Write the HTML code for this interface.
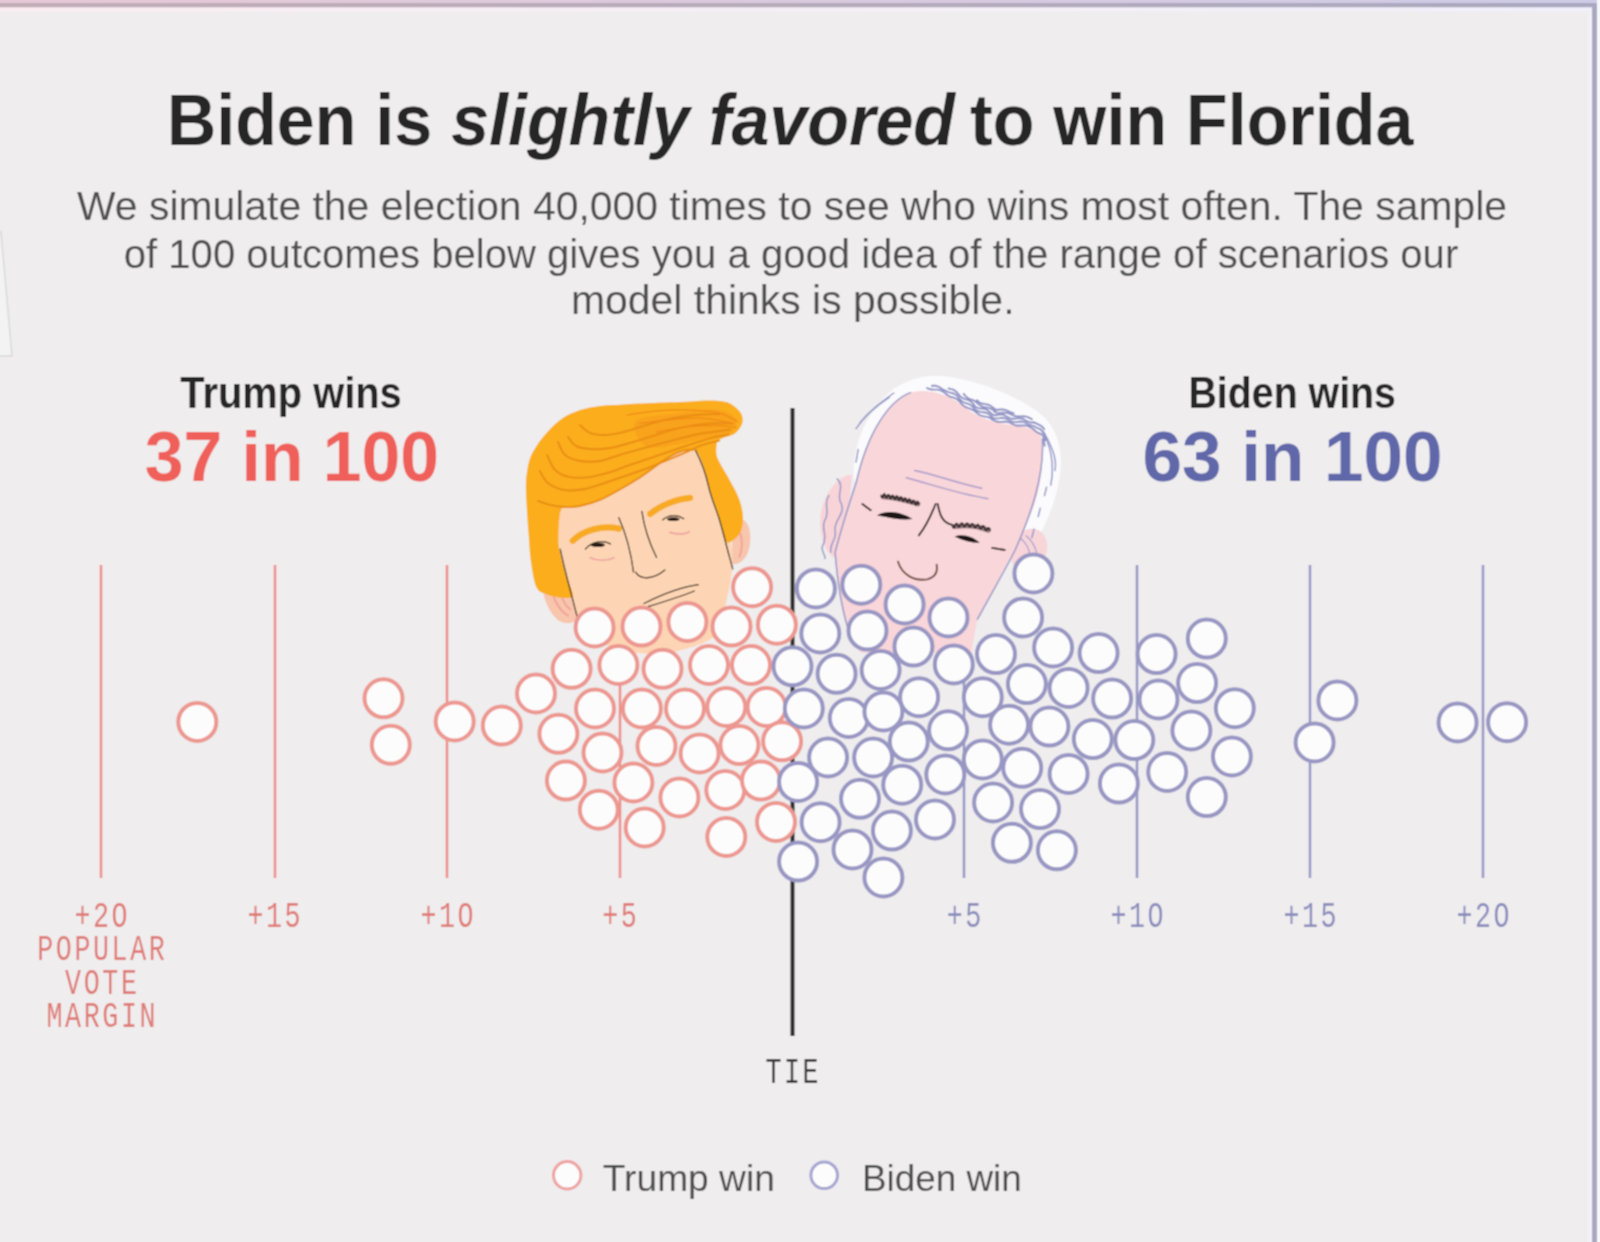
<!DOCTYPE html>
<html><head><meta charset="utf-8"><style>
html,body{margin:0;padding:0;background:#efedee;}
body{width:1600px;height:1242px;overflow:hidden;position:relative;}
svg{position:absolute;left:0;top:0;}
#wrap{position:absolute;left:0;top:0;width:1600px;height:1242px;}
text{font-family:"Liberation Sans",sans-serif;}
.mono text{font-family:"Liberation Mono",monospace;}
</style></head><body>
<div id="wrap">
<svg width="1600" height="1242" viewBox="0 0 1600 1242">
<defs>
<linearGradient id="topg" x1="0" x2="1" y1="0" y2="0"><stop offset="0" stop-color="#e6c9d6"/><stop offset="1" stop-color="#cdcbe6"/></linearGradient>
<linearGradient id="topd" x1="0" x2="1" y1="0" y2="0"><stop offset="0" stop-color="#c2acb6"/><stop offset="1" stop-color="#a9a8bf"/></linearGradient>
<linearGradient id="topl" x1="0" x2="1" y1="0" y2="0"><stop offset="0" stop-color="#fbedf2"/><stop offset="1" stop-color="#f1f0fb"/></linearGradient>
<filter id="soft" x="0" y="0" width="1600" height="1242" filterUnits="userSpaceOnUse"><feConvolveMatrix order="3" kernelMatrix="1 2 1 2 4 2 1 2 1" divisor="16" edgeMode="duplicate"/></filter>
</defs>
<g filter="url(#soft)">
<rect x="0" y="0" width="1600" height="1242" fill="#efedee"/>
<rect x="0" y="0" width="1600" height="3" fill="url(#topg)"/>
<rect x="0" y="3" width="1596" height="4.5" fill="url(#topd)"/>
<rect x="0" y="7.5" width="1592" height="4" fill="url(#topl)"/>
<rect x="1588" y="12" width="4" height="1230" fill="#f2f1f8"/>
<rect x="1592" y="3" width="5" height="1239" fill="#aaa8c1"/>
<rect x="1597" y="0" width="3" height="1242" fill="#f6f7fb"/>
<path d="M0 232 L1 232 L12 356 L0 356" fill="#f3f3f3" stroke="#d9d9d9" stroke-width="1.5"/>

<text x="167" y="145" font-size="72" font-weight="bold" fill="#272727" textLength="788" lengthAdjust="spacingAndGlyphs">Biden is <tspan font-style="italic">slightly favored</tspan></text>
<text x="970" y="145" font-size="72" font-weight="bold" fill="#272727" textLength="443.5" lengthAdjust="spacingAndGlyphs">to win Florida</text>

<g font-size="41" fill="#505050" text-anchor="middle">
<text x="792" y="219.5" textLength="1430" lengthAdjust="spacingAndGlyphs">We simulate the election 40,000 times to see who wins most often. The sample</text>
<text x="791" y="267.5" textLength="1334.5" lengthAdjust="spacingAndGlyphs">of 100 outcomes below gives you a good idea of the range of scenarios our</text>
<text x="792.75" y="314" textLength="443.5" lengthAdjust="spacingAndGlyphs">model thinks is possible.</text>
</g>

<text x="291" y="408" text-anchor="middle" font-size="44" font-weight="bold" fill="#272727" textLength="221.5" lengthAdjust="spacingAndGlyphs">Trump wins</text>
<text x="291.9" y="480.5" text-anchor="middle" font-size="70" font-weight="bold" fill="#f0605a" textLength="294.4" lengthAdjust="spacingAndGlyphs">37 in 100</text>
<text x="1292.2" y="408" text-anchor="middle" font-size="44" font-weight="bold" fill="#272727" textLength="207.5" lengthAdjust="spacingAndGlyphs">Biden wins</text>
<text x="1292.5" y="480.5" text-anchor="middle" font-size="70" font-weight="bold" fill="#6068aa" textLength="300" lengthAdjust="spacingAndGlyphs">63 in 100</text>

<line x1="101" y1="565" x2="101" y2="878" stroke="#ec8d87" stroke-width="2.5"/><line x1="275" y1="565" x2="275" y2="878" stroke="#ec8d87" stroke-width="2.5"/><line x1="447" y1="565" x2="447" y2="878" stroke="#ec8d87" stroke-width="2.5"/><line x1="620" y1="565" x2="620" y2="878" stroke="#ec8d87" stroke-width="2.5"/><line x1="964" y1="565" x2="964" y2="878" stroke="#9496c6" stroke-width="2.5"/><line x1="1137" y1="565" x2="1137" y2="878" stroke="#9496c6" stroke-width="2.5"/><line x1="1310" y1="565" x2="1310" y2="878" stroke="#9496c6" stroke-width="2.5"/><line x1="1483" y1="565" x2="1483" y2="878" stroke="#9496c6" stroke-width="2.5"/>
<line x1="792.5" y1="408" x2="792.5" y2="1036" stroke="#2a2a2a" stroke-width="4"/>

<g id="trump" transform="translate(510 390) scale(0.20934)">
<path d="M228 560 C225 700 250 900 310 1090 C380 1200 500 1260 700 1260 C850 1250 950 1200 990 1170 C1030 1050 1060 900 1065 820 C1060 700 1010 520 960 300 L880 250 L500 420 Z" fill="#fdd5b4"/>
<path d="M165 890 C140 940 170 1050 230 1100 C270 1125 320 1115 318 1080 L290 980 C250 900 190 870 165 890 Z" fill="#f8c5ad"/>
<path d="M200 930 C200 990 230 1050 280 1080 M230 920 C240 980 260 1030 290 1050" fill="none" stroke="#f0a095" stroke-width="8"/>
<path d="M1060 640 C1100 595 1145 620 1148 700 C1150 780 1115 835 1062 832 Z" fill="#f8c5ad"/>
<path d="M1085 660 C1110 690 1115 750 1095 800" fill="none" stroke="#f0a095" stroke-width="8"/>
<path d="M127.0 944.0 C113.7 917.7 106.2 860.3 100.0 820.0 C93.8 779.7 93.3 745.3 90.0 702.0 C86.7 658.7 82.3 598.7 80.0 560.0 C77.7 521.3 76.0 496.7 76.0 470.0 C76.0 443.3 76.0 425.8 80.0 400.0 C84.0 374.2 87.0 344.2 100.0 315.0 C113.0 285.8 134.8 253.7 158.0 225.0 C181.2 196.3 209.7 164.5 239.0 143.0 C268.3 121.5 302.2 107.2 334.0 96.0 C365.8 84.8 398.2 80.3 430.0 76.0 C461.8 71.7 485.2 72.3 525.0 70.0 C564.8 67.7 621.2 64.2 669.0 62.0 C716.8 59.8 773.5 58.7 812.0 57.0 C850.5 55.3 878.2 53.2 900.0 52.0 C921.8 50.8 926.3 50.0 943.0 50.0 C959.7 50.0 982.0 49.7 1000.0 52.0 C1018.0 54.3 1034.2 54.8 1051.0 64.0 C1067.8 73.2 1091.2 91.5 1101.0 107.0 C1110.8 122.5 1114.3 140.2 1110.0 157.0 C1105.7 173.8 1093.3 194.5 1075.0 208.0 C1056.7 221.5 1014.8 226.8 1000.0 238.0 C985.2 249.2 987.2 259.7 986.0 275.0 C984.8 290.3 983.0 305.2 993.0 330.0 C1003.0 354.8 1029.0 392.0 1046.0 424.0 C1063.0 456.0 1083.8 491.3 1095.0 522.0 C1106.2 552.7 1112.2 581.7 1113.0 608.0 C1113.8 634.3 1108.5 661.3 1100.0 680.0 C1091.5 698.7 1074.0 713.5 1062.0 720.0 C1050.0 726.5 1038.8 737.7 1028.0 719.0 C1017.2 700.3 1010.5 652.2 997.0 608.0 C983.5 563.8 959.3 495.0 947.0 454.0 C934.7 413.0 933.2 389.7 923.0 362.0 C912.8 334.3 902.5 299.8 886.0 288.0 C869.5 276.2 846.3 284.8 824.0 291.0 C801.7 297.2 775.8 311.0 752.0 325.0 C728.2 339.0 704.8 358.3 681.0 375.0 C657.2 391.7 633.0 409.5 609.0 425.0 C585.0 440.5 566.8 451.3 537.0 468.0 C507.2 484.7 463.8 510.7 430.0 525.0 C396.2 539.3 361.8 548.3 334.0 554.0 C306.2 559.7 278.7 553.8 263.0 559.0 C247.3 564.2 245.2 564.8 240.0 585.0 C234.8 605.2 232.7 650.8 232.0 680.0 C231.3 709.2 231.0 728.3 236.0 760.0 C241.0 791.7 251.3 833.3 262.0 870.0 C272.7 906.7 302.0 959.7 300.0 980.0 C298.0 1000.3 270.0 992.3 250.0 992.0 C230.0 991.7 200.5 986.0 180.0 978.0 C159.5 970.0 140.3 970.3 127.0 944.0 Z" fill="#fbad1f"/>
<path d="M600.0 150.0 C625.0 123.3 733.3 119.2 800.0 110.0 C866.7 100.8 953.3 90.0 1000.0 95.0 C1046.7 100.0 1070.0 122.5 1080.0 140.0 C1090.0 157.5 1081.7 185.8 1060.0 200.0 C1038.3 214.2 993.3 215.0 950.0 225.0 C906.7 235.0 850.0 252.5 800.0 260.0 C750.0 267.5 683.3 288.3 650.0 270.0 C616.7 251.7 575.0 176.7 600.0 150.0 Z" fill="#f9a01c" opacity="0.8"/>
<g fill="none" stroke="#e98c10" stroke-width="9" stroke-linecap="round">
<path d="M334.0 167.0 C342.0 173.3 362.0 197.0 382.0 205.0 C402.0 213.0 430.2 215.0 454.0 215.0 C477.8 215.0 497.2 211.3 525.0 205.0 C552.8 198.7 583.5 187.8 621.0 177.0 C658.5 166.2 703.5 149.8 750.0 140.0 C796.5 130.2 858.3 122.2 900.0 118.0 C941.7 113.8 983.3 115.5 1000.0 115.0"/>
<path d="M277.0 224.0 C283.3 231.2 297.5 257.3 315.0 267.0 C332.5 276.7 354.8 280.3 382.0 282.0 C409.2 283.7 446.2 281.8 478.0 277.0 C509.8 272.2 541.2 261.8 573.0 253.0 C604.8 244.2 629.2 236.0 669.0 224.0 C708.8 212.0 765.2 191.7 812.0 181.0 C858.8 170.3 908.7 163.5 950.0 160.0 C991.3 156.5 1041.7 160.0 1060.0 160.0"/>
<path d="M229.0 248.0 C234.7 258.3 245.5 294.8 263.0 310.0 C280.5 325.2 306.2 334.2 334.0 339.0 C361.8 343.8 398.2 343.8 430.0 339.0 C461.8 334.2 493.2 319.5 525.0 310.0 C556.8 300.5 581.2 293.0 621.0 282.0 C660.8 271.0 717.5 256.0 764.0 244.0 C810.5 232.0 852.3 219.0 900.0 210.0 C947.7 201.0 1025.0 193.3 1050.0 190.0"/>
<path d="M177.0 310.0 C183.3 322.0 196.7 364.3 215.0 382.0 C233.3 399.7 259.2 410.3 287.0 416.0 C314.8 421.7 350.2 420.0 382.0 416.0 C413.8 412.0 446.2 401.7 478.0 392.0 C509.8 382.3 541.2 369.2 573.0 358.0 C604.8 346.8 629.2 338.5 669.0 325.0 C708.8 311.5 765.2 292.5 812.0 277.0 C858.8 261.5 911.2 242.8 950.0 232.0 C988.8 221.2 1029.2 215.3 1045.0 212.0"/>
<path d="M143.0 387.0 C149.3 396.5 161.0 428.8 181.0 444.0 C201.0 459.2 233.5 473.2 263.0 478.0 C292.5 482.8 326.2 478.7 358.0 473.0 C389.8 467.3 422.2 454.3 454.0 444.0 C485.8 433.7 513.2 423.7 549.0 411.0 C584.8 398.3 625.2 384.8 669.0 368.0 C712.8 351.2 770.2 327.7 812.0 310.0 C853.8 292.3 888.7 273.3 920.0 262.0 C951.3 250.7 986.7 245.3 1000.0 242.0"/>
<path d="M134.0 530.0 C143.5 533.2 169.5 544.2 191.0 549.0 C212.5 553.8 239.2 558.2 263.0 559.0 C286.8 559.8 306.2 559.7 334.0 554.0 C361.8 548.3 396.2 539.3 430.0 525.0 C463.8 510.7 507.2 484.7 537.0 468.0 C566.8 451.3 585.0 440.5 609.0 425.0 C633.0 409.5 657.2 391.7 681.0 375.0 C704.8 358.3 728.2 339.0 752.0 325.0 C775.8 311.0 803.0 297.7 824.0 291.0 C845.0 284.3 869.0 286.0 878.0 285.0"/>
</g>
<g fill="none" stroke="#f08a14" stroke-width="6" stroke-linecap="round">
<path d="M560.0 120.0 C583.3 116.7 651.7 104.2 700.0 100.0 C748.3 95.8 800.0 93.3 850.0 95.0 C900.0 96.7 960.8 100.8 1000.0 110.0 C1039.2 119.2 1070.8 143.3 1085.0 150.0"/>
<path d="M620.0 160.0 C646.7 156.7 728.3 144.2 780.0 140.0 C831.7 135.8 881.7 131.7 930.0 135.0 C978.3 138.3 1046.7 155.8 1070.0 160.0"/>
<path d="M700.0 200.0 C725.0 195.8 800.0 180.0 850.0 175.0 C900.0 170.0 961.7 169.2 1000.0 170.0 C1038.3 170.8 1066.7 178.3 1080.0 180.0"/>
</g>
<g fill="none" stroke="#f8aa22" stroke-width="30" stroke-linecap="round">
<path d="M300 720 C350 670 440 645 520 662"/>
<path d="M670 592 C720 548 800 520 860 515"/>
</g>
<g fill="none" stroke="#3b2b22" stroke-width="6" stroke-linecap="round">
<path d="M360 760 C390 725 440 715 480 735"/>
<path d="M730 620 C760 595 800 595 830 615"/>
<path d="M520 610 C560 700 580 790 590 870"/>
<path d="M630 580 C640 650 660 720 700 800"/>
<path d="M600 870 C620 905 680 910 740 860"/>
<path d="M640 1020 C720 980 820 940 900 930"/>
<path d="M660 1035 C740 1010 820 985 880 960"/>
<path d="M240 760 C260 860 290 960 320 1080"/>
<path d="M886 288 C905 325 935 400 947 454 C962 520 985 570 997 608 C1010 650 1020 690 1028 719 C1040 770 1055 820 1064 855"/>
</g>
<ellipse cx="420" cy="740" rx="34" ry="10" fill="#2a1a14"/>
<ellipse cx="780" cy="617" rx="30" ry="9" fill="#2a1a14"/>
<path d="M380 800 C420 820 470 815 500 800 M760 680 C800 690 840 690 860 675" fill="none" stroke="#eea0a0" stroke-width="8"/>
</g>

<g id="biden" transform="translate(810 370) scale(0.20934)">
<path d="M210 520 C200 380 260 200 400 90 C480 40 560 20 640 30 C800 50 950 110 1060 180 C1160 240 1205 340 1198 460 C1190 580 1150 690 1090 800 L1040 850 L900 700 L300 700 Z" fill="#fbfbfd"/>
<ellipse cx="1045" cy="860" rx="85" ry="105" transform="rotate(25 1045 860)" fill="#f8d5d9"/>
<path d="M1000 800 C1040 830 1060 880 1050 940 M1030 790 C1070 820 1090 870 1085 920" fill="none" stroke="#a7a2cf" stroke-width="6"/>
<path d="M200 500 C130 500 60 600 50 700 C45 800 70 870 120 900 L170 860 Z" fill="#f8d4d8"/>
<path d="M480 108 C560 88 640 110 702 151 C760 195 800 225 866 243 C930 262 1010 268 1063 282 C1090 292 1105 310 1105 330 C1120 450 1100 580 1050 700 C1000 820 900 1000 800 1190 L770 1350 L240 1350 L175 1223 C150 1100 125 950 120 870 C160 720 200 600 220 540 C245 430 280 330 330 250 C370 185 420 130 480 108 Z" fill="#f9d6d9"/>
<g fill="none" stroke="#9397c8" stroke-width="7" stroke-linecap="round">
<path stroke="#8d8fc2" stroke-width="9" d="M559 86 L565 89 L571 91 L577 92 L583 93 L589 94 L595 94 L601 94 L608 94 L614 95 L619 96 L625 98 L631 101 L636 104 L641 107 L647 112 L652 116 L656 120 L661 123 L667 126 L673 128 L679 130 L685 131 L690 133 L696 136 L701 139 L706 142 L711 147 L715 151 L719 156 L723 161 L727 165 L732 169 L737 173 L742 176 L747 178 L753 181 L759 183 L765 185 L770 188 L774 189 L780 192 L785 195 L790 199 L794 203 L799 207 L804 211 L809 214 L814 217 L820 219 L826 220 L832 222 L838 223 L844 224 L850 225 L856 227 L861 230 L866 233 L870 236 L875 239 L881 241 L887 244 L892 246 L898 247 L904 248 L910 248 L916 248 L923 247 L929 247 L935 247 L941 247 L947 249 L953 250 L958 253 L964 256 L969 258 L975 261 L981 263 L987 265 L993 265 L999 266 L1005 265 L1011 265 L1017 265 L1023 265 L1029 265 L1035 266 L1041 268 L1047 270 L1052 273 L1058 276 L1063 279 L1069 284 L1073 288 L1078 292 L1083 296 L1088 299 L1094 301 L1099 304 L1105 307 L1110 311 L1115 320 L1117 326 L1118 332 L1118 338 L1118 344 L1119 350 L1120 356 L1121 362"/>
<path stroke="#8d8fc2" stroke-width="9" d="M582 75 L588 75 L594 75 L600 75 L606 77 L612 79 L617 82 L622 85 L628 89 L633 92 L638 95 L644 97 L653 102 L659 105 L665 107 L671 108 L677 110 L683 111 L689 114 L694 116 L699 120 L703 124 L707 129 L711 134 L716 140 L720 144 L724 148 L729 152 L735 155 L741 157 L747 159 L753 161 L759 163 L764 165 L769 168 L774 172 L778 176 L779 179 L784 183 L788 187 L793 191 L798 195 L804 197 L809 199 L815 200 L822 201 L828 202 L834 203 L840 204 L846 206 L851 209 L856 212 L861 217 L866 221 L870 225 L871 228 L877 230 L883 231 L889 231 L895 231 L901 231 L908 230 L914 229 L920 229 L926 229 L932 231 L938 233 L943 235 L949 239 L954 242 L960 244 L966 247 L971 248 L977 249 L984 249 L990 248 L996 247 L1002 247 L1009 246 L1015 247 L1021 248 L1026 250 L1032 253 L1037 256 L1043 259 L1048 262 L1054 264 L1060 266 L1066 267 L1078 273 L1084 276 L1090 279 L1096 281 L1101 284 L1106 288 L1111 292 L1115 296 L1118 301 L1126 316 L1126 323 L1126 329 L1126 335"/>
<path stroke="#8d8fc2" stroke-width="9" d="M662 88 L668 90 L674 91 L680 93 L686 95 L691 98 L696 102 L701 106 L705 111 L709 116 L713 120 L717 125 L723 130 L728 134 L733 136 L739 139 L745 140 L751 142 L757 144 L763 147 L768 150 L772 153 L777 158 L781 163 L784 168 L783 170 L788 174 L793 177 L799 180 L804 182 L810 183 L817 184 L823 184 L829 185 L835 186 L841 188 L846 191 L851 195 L856 199 L861 203 L865 207 L870 211 L875 215 L874 215 L880 216 L886 215 L892 215 L898 214 L905 213 L911 213 L917 213 L923 214 L929 217 L934 219 L940 222 L945 226 L951 228 L956 231 L962 232 L968 233 L975 233 L981 232 L987 231 L993 231 L1000 230 L1006 231 L1012 232 L1017 234 L1023 237 L1028 240 L1034 243 L1039 246 L1045 248 L1051 250 L1057 251 L1063 251 L1069 250 L1090 260 L1096 263 L1102 266 L1107 269 L1111 273 L1115 278 L1119 283"/>
<path stroke="#8d8fc2" stroke-width="9" d="M734 114 L738 119 L742 124 L746 128 L751 132 L756 135 L762 138 L767 140 L773 142 L779 144 L785 147 L790 150 L795 153 L792 152 L797 156 L801 160 L806 164 L811 167 L816 171 L821 174 L827 176 L833 178 L839 179 L845 180 L851 181 L857 182 L863 184 L868 187 L873 190 L878 193 L883 197 L877 197 L883 200 L889 202 L894 204 L900 205 L906 205 L912 205 L919 204 L925 204 L931 204 L937 204 L943 205 L949 207 L955 209 L960 212 L966 214 L971 217 L977 219 L983 221 L989 222 L995 222 L1001 222 L1007 222 L1014 222 L1020 221 L1026 222 L1032 223 L1038 224 L1043 226 L1049 229 L1054 232 L1060 235"/>
<path stroke="#8d8fc2" stroke-width="9" d="M800 145 L795 144 L800 148 L805 152 L810 155 L815 158 L821 160 L827 161 L833 162 L839 163 L845 165 L851 166 L857 168 L862 171 L867 174 L872 178 L877 182 L882 186 L887 190 L879 188 L885 190 L891 190 L897 190 L903 190 L909 189 L915 189 L922 189 L928 190 L933 191 L939 193 L945 195 L950 198 L956 201 L962 203 L967 205 L973 207"/>
<path d="M1100 280 C1150 350 1170 450 1150 550"/>
<path d="M1130 320 C1160 380 1180 430 1170 480"/>
<path d="M220 280 C260 220 320 170 380 130"/>
<path d="M240 250 C280 200 330 160 400 110"/>
<path d="M230 380 L220 440"/>
<path d="M480 108 C420 130 370 185 330 250 C280 330 245 430 220 540 C200 600 160 720 120 870 C130 1000 150 1130 180 1230"/>
<path d="M1110 330 C1120 500 1060 680 980 860 C930 960 870 1060 800 1190"/>
<path d="M130 520 C170 560 120 600 150 640 C170 690 110 720 120 770 C130 810 90 830 100 870"/>
<path d="M90 600 C60 640 100 680 70 720 C50 760 90 790 60 840 C50 870 80 890 70 900"/>
<path d="M1130 560 L1120 600 M1100 660 L1090 700 M1070 760 L1060 800"/>
</g>
<g fill="none" stroke="#a79acb" stroke-width="7" stroke-linecap="round">
<path d="M500 480 C600 500 700 540 820 565"/>
<path d="M460 515 C560 540 700 590 850 615"/>
</g>
<g fill="none" stroke="#6b5558" stroke-width="24" stroke-linecap="round" opacity="0.75">
<path d="M350 605 C400 608 460 622 515 640"/>
<path d="M690 748 C740 740 800 745 852 765"/>
</g>
<g fill="none" stroke="#2e2326" stroke-width="9" stroke-linecap="round">
<path d="M340 600 L343 608 L346 609 L349 604 L352 596 L355 592 L358 597 L361 605 L364 611 L367 610 L370 603 L373 596 L376 596 L379 602 L382 610 L385 615 L388 611 L391 604 L394 599 L397 600 L400 608 L403 616 L406 618 L409 613 L412 605 L415 602 L418 606 L421 615 L424 622 L427 621 L430 614 L433 608 L436 607 L439 614 L442 623 L445 627 L448 624 L451 617 L454 612 L457 614 L460 622 L463 630 L466 632 L469 627 L472 620 L475 617 L478 622 L481 631 L484 637 L487 637 L490 630 L493 624 L496 624 L499 630 L502 639 L505 644 L508 641 L511 634 L514 629 L517 632 L520 640" stroke-width="8"/>
<path d="M680 745 L683 751 L686 753 L689 751 L692 745 L695 738 L698 734 L701 734 L704 738 L707 744 L710 749 L713 750 L716 746 L719 740 L722 734 L725 731 L728 734 L731 739 L734 745 L737 749 L740 748 L743 743 L746 737 L749 732 L752 732 L755 736 L758 743 L761 748 L764 750 L767 748 L770 742 L773 736 L776 734 L779 736 L782 741 L785 748 L788 753 L791 753 L794 749 L797 743 L800 739 L803 738 L806 742 L809 749 L812 756 L815 759 L818 757 L821 752 L824 747 L827 744 L830 746 L833 752 L836 760 L839 765 L842 767 L845 764 L848 758 L851 754 L854 754 L857 758 L860 765" stroke-width="8"/>
<path d="M600 640 C580 690 560 740 520 790"/>
<path d="M610 640 C620 690 630 730 680 740"/>
<path d="M250 640 L290 670 M870 850 L930 860"/>
</g>
<path d="M320 695 C370 665 440 680 490 712 C440 720 380 705 320 695 Z" fill="#1d1416"/>
<path d="M690 795 C730 780 780 795 810 825 C770 825 730 815 690 795 Z" fill="#1d1416"/>
<path d="M420 915 C440 980 500 1010 560 1000 C600 990 610 960 605 930" fill="none" stroke="#6e4a45" stroke-width="9" stroke-linecap="round"/>
</g>


<circle cx="197.3" cy="721.9" r="19" fill="#fdfcfd" stroke="#ec9790" stroke-width="4.0"/>
<circle cx="383.5" cy="698.3" r="19" fill="#fdfcfd" stroke="#ec9790" stroke-width="4.0"/>
<circle cx="390.8" cy="744.8" r="19" fill="#fdfcfd" stroke="#ec9790" stroke-width="4.0"/>
<circle cx="454.7" cy="721.4" r="19" fill="#fdfcfd" stroke="#ec9790" stroke-width="4.0"/>
<circle cx="501.8" cy="725.6" r="19" fill="#fdfcfd" stroke="#ec9790" stroke-width="4.0"/>
<circle cx="536" cy="693.5" r="19" fill="#fdfcfd" stroke="#ec9790" stroke-width="4.0"/>
<circle cx="752.1" cy="587.2" r="19" fill="#fdfcfd" stroke="#ec9790" stroke-width="4.0"/>
<circle cx="594.6" cy="627.5" r="19" fill="#fdfcfd" stroke="#ec9790" stroke-width="4.0"/>
<circle cx="641.5" cy="626.6" r="19" fill="#fdfcfd" stroke="#ec9790" stroke-width="4.0"/>
<circle cx="687.4" cy="621.9" r="19" fill="#fdfcfd" stroke="#ec9790" stroke-width="4.0"/>
<circle cx="731.5" cy="626.6" r="19" fill="#fdfcfd" stroke="#ec9790" stroke-width="4.0"/>
<circle cx="776.9" cy="624.7" r="19" fill="#fdfcfd" stroke="#ec9790" stroke-width="4.0"/>
<circle cx="571.6" cy="668.8" r="19" fill="#fdfcfd" stroke="#ec9790" stroke-width="4.0"/>
<circle cx="618.4" cy="665" r="19" fill="#fdfcfd" stroke="#ec9790" stroke-width="4.0"/>
<circle cx="662.5" cy="668.8" r="19" fill="#fdfcfd" stroke="#ec9790" stroke-width="4.0"/>
<circle cx="709" cy="665" r="19" fill="#fdfcfd" stroke="#ec9790" stroke-width="4.0"/>
<circle cx="751" cy="665" r="19" fill="#fdfcfd" stroke="#ec9790" stroke-width="4.0"/>
<circle cx="595" cy="708.5" r="19" fill="#fdfcfd" stroke="#ec9790" stroke-width="4.0"/>
<circle cx="641.9" cy="708.5" r="19" fill="#fdfcfd" stroke="#ec9790" stroke-width="4.0"/>
<circle cx="685" cy="708.5" r="19" fill="#fdfcfd" stroke="#ec9790" stroke-width="4.0"/>
<circle cx="726.3" cy="707" r="19" fill="#fdfcfd" stroke="#ec9790" stroke-width="4.0"/>
<circle cx="766.6" cy="707" r="19" fill="#fdfcfd" stroke="#ec9790" stroke-width="4.0"/>
<circle cx="558.4" cy="733.8" r="19" fill="#fdfcfd" stroke="#ec9790" stroke-width="4.0"/>
<circle cx="602.5" cy="752.5" r="19" fill="#fdfcfd" stroke="#ec9790" stroke-width="4.0"/>
<circle cx="656.5" cy="745.9" r="19" fill="#fdfcfd" stroke="#ec9790" stroke-width="4.0"/>
<circle cx="699.6" cy="753.4" r="19" fill="#fdfcfd" stroke="#ec9790" stroke-width="4.0"/>
<circle cx="739.4" cy="745" r="19" fill="#fdfcfd" stroke="#ec9790" stroke-width="4.0"/>
<circle cx="782.1" cy="741.3" r="19" fill="#fdfcfd" stroke="#ec9790" stroke-width="4.0"/>
<circle cx="565.9" cy="780.6" r="19" fill="#fdfcfd" stroke="#ec9790" stroke-width="4.0"/>
<circle cx="633.4" cy="782.5" r="19" fill="#fdfcfd" stroke="#ec9790" stroke-width="4.0"/>
<circle cx="679.4" cy="797.5" r="19" fill="#fdfcfd" stroke="#ec9790" stroke-width="4.0"/>
<circle cx="725.3" cy="790" r="19" fill="#fdfcfd" stroke="#ec9790" stroke-width="4.0"/>
<circle cx="761" cy="780.6" r="19" fill="#fdfcfd" stroke="#ec9790" stroke-width="4.0"/>
<circle cx="598.8" cy="809.7" r="19" fill="#fdfcfd" stroke="#ec9790" stroke-width="4.0"/>
<circle cx="644.7" cy="827.5" r="19" fill="#fdfcfd" stroke="#ec9790" stroke-width="4.0"/>
<circle cx="726.3" cy="836.9" r="19" fill="#fdfcfd" stroke="#ec9790" stroke-width="4.0"/>
<circle cx="776" cy="821.9" r="19" fill="#fdfcfd" stroke="#ec9790" stroke-width="4.0"/>
<circle cx="815.9" cy="588.4" r="19" fill="#fdfcfd" stroke="#9896c2" stroke-width="4.0"/>
<circle cx="861.3" cy="584.7" r="19" fill="#fdfcfd" stroke="#9896c2" stroke-width="4.0"/>
<circle cx="904.6" cy="604.4" r="19" fill="#fdfcfd" stroke="#9896c2" stroke-width="4.0"/>
<circle cx="948.5" cy="617.5" r="19" fill="#fdfcfd" stroke="#9896c2" stroke-width="4.0"/>
<circle cx="1033.4" cy="573.4" r="19" fill="#fdfcfd" stroke="#9896c2" stroke-width="4.0"/>
<circle cx="820.3" cy="633.4" r="19" fill="#fdfcfd" stroke="#9896c2" stroke-width="4.0"/>
<circle cx="867.5" cy="630.6" r="19" fill="#fdfcfd" stroke="#9896c2" stroke-width="4.0"/>
<circle cx="913.4" cy="646.6" r="19" fill="#fdfcfd" stroke="#9896c2" stroke-width="4.0"/>
<circle cx="953.8" cy="664.4" r="19" fill="#fdfcfd" stroke="#9896c2" stroke-width="4.0"/>
<circle cx="1023.1" cy="617.5" r="19" fill="#fdfcfd" stroke="#9896c2" stroke-width="4.0"/>
<circle cx="996" cy="654.1" r="19" fill="#fdfcfd" stroke="#9896c2" stroke-width="4.0"/>
<circle cx="1053.1" cy="647.5" r="19" fill="#fdfcfd" stroke="#9896c2" stroke-width="4.0"/>
<circle cx="792.5" cy="666.3" r="19" fill="#fdfcfd" stroke="#9896c2" stroke-width="4.0"/>
<circle cx="836.6" cy="673.8" r="19" fill="#fdfcfd" stroke="#9896c2" stroke-width="4.0"/>
<circle cx="880.6" cy="670" r="19" fill="#fdfcfd" stroke="#9896c2" stroke-width="4.0"/>
<circle cx="919.1" cy="697.2" r="19" fill="#fdfcfd" stroke="#9896c2" stroke-width="4.0"/>
<circle cx="982.8" cy="697.2" r="19" fill="#fdfcfd" stroke="#9896c2" stroke-width="4.0"/>
<circle cx="1026.9" cy="684.1" r="19" fill="#fdfcfd" stroke="#9896c2" stroke-width="4.0"/>
<circle cx="803.8" cy="708.5" r="19" fill="#fdfcfd" stroke="#9896c2" stroke-width="4.0"/>
<circle cx="848.8" cy="718" r="19" fill="#fdfcfd" stroke="#9896c2" stroke-width="4.0"/>
<circle cx="883.4" cy="711.5" r="19" fill="#fdfcfd" stroke="#9896c2" stroke-width="4.0"/>
<circle cx="948.1" cy="730.3" r="19" fill="#fdfcfd" stroke="#9896c2" stroke-width="4.0"/>
<circle cx="908.8" cy="741.6" r="19" fill="#fdfcfd" stroke="#9896c2" stroke-width="4.0"/>
<circle cx="1009.1" cy="724.7" r="19" fill="#fdfcfd" stroke="#9896c2" stroke-width="4.0"/>
<circle cx="1049.4" cy="726.6" r="19" fill="#fdfcfd" stroke="#9896c2" stroke-width="4.0"/>
<circle cx="828.1" cy="757.5" r="19" fill="#fdfcfd" stroke="#9896c2" stroke-width="4.0"/>
<circle cx="873.1" cy="757.5" r="19" fill="#fdfcfd" stroke="#9896c2" stroke-width="4.0"/>
<circle cx="982.8" cy="759.4" r="19" fill="#fdfcfd" stroke="#9896c2" stroke-width="4.0"/>
<circle cx="1022.2" cy="767.8" r="19" fill="#fdfcfd" stroke="#9896c2" stroke-width="4.0"/>
<circle cx="945.3" cy="774.4" r="19" fill="#fdfcfd" stroke="#9896c2" stroke-width="4.0"/>
<circle cx="798.1" cy="781.9" r="19" fill="#fdfcfd" stroke="#9896c2" stroke-width="4.0"/>
<circle cx="902.2" cy="784.7" r="19" fill="#fdfcfd" stroke="#9896c2" stroke-width="4.0"/>
<circle cx="860" cy="798.8" r="19" fill="#fdfcfd" stroke="#9896c2" stroke-width="4.0"/>
<circle cx="993.1" cy="802.5" r="19" fill="#fdfcfd" stroke="#9896c2" stroke-width="4.0"/>
<circle cx="1040" cy="809.1" r="19" fill="#fdfcfd" stroke="#9896c2" stroke-width="4.0"/>
<circle cx="820.6" cy="822.2" r="19" fill="#fdfcfd" stroke="#9896c2" stroke-width="4.0"/>
<circle cx="891.9" cy="830.6" r="19" fill="#fdfcfd" stroke="#9896c2" stroke-width="4.0"/>
<circle cx="935" cy="819.4" r="19" fill="#fdfcfd" stroke="#9896c2" stroke-width="4.0"/>
<circle cx="1011.9" cy="842.8" r="19" fill="#fdfcfd" stroke="#9896c2" stroke-width="4.0"/>
<circle cx="1056.9" cy="850.3" r="19" fill="#fdfcfd" stroke="#9896c2" stroke-width="4.0"/>
<circle cx="852.5" cy="849.4" r="19" fill="#fdfcfd" stroke="#9896c2" stroke-width="4.0"/>
<circle cx="798.1" cy="861.6" r="19" fill="#fdfcfd" stroke="#9896c2" stroke-width="4.0"/>
<circle cx="883.4" cy="877.5" r="19" fill="#fdfcfd" stroke="#9896c2" stroke-width="4.0"/>
<circle cx="1098.6" cy="653.1" r="19" fill="#fdfcfd" stroke="#9896c2" stroke-width="4.0"/>
<circle cx="1156.6" cy="654.1" r="19" fill="#fdfcfd" stroke="#9896c2" stroke-width="4.0"/>
<circle cx="1206.8" cy="638.6" r="19" fill="#fdfcfd" stroke="#9896c2" stroke-width="4.0"/>
<circle cx="1068.6" cy="687.9" r="19" fill="#fdfcfd" stroke="#9896c2" stroke-width="4.0"/>
<circle cx="1112.1" cy="698.6" r="19" fill="#fdfcfd" stroke="#9896c2" stroke-width="4.0"/>
<circle cx="1158.5" cy="699.5" r="19" fill="#fdfcfd" stroke="#9896c2" stroke-width="4.0"/>
<circle cx="1197.1" cy="683.1" r="19" fill="#fdfcfd" stroke="#9896c2" stroke-width="4.0"/>
<circle cx="1234.8" cy="708.2" r="19" fill="#fdfcfd" stroke="#9896c2" stroke-width="4.0"/>
<circle cx="1092.8" cy="739.1" r="19" fill="#fdfcfd" stroke="#9896c2" stroke-width="4.0"/>
<circle cx="1134.3" cy="740.1" r="19" fill="#fdfcfd" stroke="#9896c2" stroke-width="4.0"/>
<circle cx="1191.4" cy="730.4" r="19" fill="#fdfcfd" stroke="#9896c2" stroke-width="4.0"/>
<circle cx="1068.6" cy="773.9" r="19" fill="#fdfcfd" stroke="#9896c2" stroke-width="4.0"/>
<circle cx="1118.9" cy="783.6" r="19" fill="#fdfcfd" stroke="#9896c2" stroke-width="4.0"/>
<circle cx="1167.2" cy="772" r="19" fill="#fdfcfd" stroke="#9896c2" stroke-width="4.0"/>
<circle cx="1231.9" cy="756.5" r="19" fill="#fdfcfd" stroke="#9896c2" stroke-width="4.0"/>
<circle cx="1206.8" cy="797.1" r="19" fill="#fdfcfd" stroke="#9896c2" stroke-width="4.0"/>
<circle cx="1337.4" cy="700.4" r="19" fill="#fdfcfd" stroke="#9896c2" stroke-width="4.0"/>
<circle cx="1314.6" cy="742.4" r="19" fill="#fdfcfd" stroke="#9896c2" stroke-width="4.0"/>
<circle cx="1457.6" cy="722.4" r="19" fill="#fdfcfd" stroke="#9896c2" stroke-width="4.0"/>
<circle cx="1507.1" cy="722.2" r="19" fill="#fdfcfd" stroke="#9896c2" stroke-width="4.0"/>

<g class="mono" font-size="31" text-anchor="middle">
<text transform="translate(102.30 927) scale(0.86 1.21)" fill="#df7a76" letter-spacing="3.03">+2O</text>
<text transform="translate(275.30 927) scale(0.86 1.21)" fill="#df7a76" letter-spacing="3.03">+15</text>
<text transform="translate(448.30 927) scale(0.86 1.21)" fill="#df7a76" letter-spacing="3.03">+1O</text>
<text transform="translate(620.80 927) scale(0.86 1.21)" fill="#df7a76" letter-spacing="3.03">+5</text>
<text transform="translate(102.30 960) scale(0.86 1.21)" fill="#df7a76" letter-spacing="3.03">POPULAR</text>
<text transform="translate(102.30 994) scale(0.86 1.21)" fill="#df7a76" letter-spacing="3.03">VOTE</text>
<text transform="translate(102.30 1026.5) scale(0.86 1.21)" fill="#df7a76" letter-spacing="3.03">MARGIN</text>
<text transform="translate(965.30 927) scale(0.86 1.21)" fill="#8a8cbc" letter-spacing="3.03">+5</text>
<text transform="translate(1138.30 927) scale(0.86 1.21)" fill="#8a8cbc" letter-spacing="3.03">+1O</text>
<text transform="translate(1311.30 927) scale(0.86 1.21)" fill="#8a8cbc" letter-spacing="3.03">+15</text>
<text transform="translate(1484.30 927) scale(0.86 1.21)" fill="#8a8cbc" letter-spacing="3.03">+2O</text>
<text transform="translate(793.30 1083) scale(0.86 1.21)" fill="#383838" letter-spacing="3.03">TIE</text>
</g>

<circle cx="567.2" cy="1175.3" r="13.7" fill="#fdfcfd" stroke="#eea3a2" stroke-width="3"/>
<circle cx="824.2" cy="1175.3" r="13.3" fill="#fdfcfd" stroke="#a6a5d0" stroke-width="3"/>
<text x="602.8" y="1190.5" font-size="37.5" fill="#4d4d4d" textLength="172" lengthAdjust="spacingAndGlyphs">Trump win</text>
<text x="862" y="1190.5" font-size="37.5" fill="#4d4d4d" textLength="159.7" lengthAdjust="spacingAndGlyphs">Biden win</text>
</g>
</svg>
</div>
</body></html>
